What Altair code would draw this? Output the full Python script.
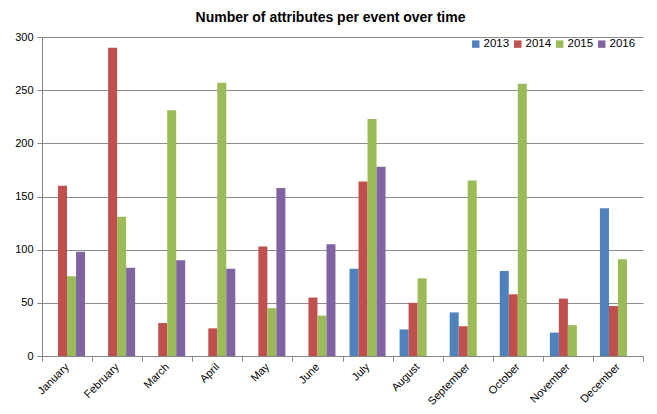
import altair as alt
import pandas as pd

months = ["January", "February", "March", "April", "May", "June", "July",
          "August", "September", "October", "November", "December"]
years = ["2013", "2014", "2015", "2016"]
v2013 = [0, 0, 0, 0, 0, 0, 82, 25, 41, 80, 22, 139]
v2014 = [160, 290, 31, 26, 103, 55, 164, 50, 28, 58, 54, 47]
v2015 = [75, 131, 231, 257, 45, 38, 223, 73, 165, 256, 29, 91]
v2016 = [98, 83, 90, 82, 158, 105, 178, 0, 0, 0, 0, 0]
colors = ["#4F81BD", "#C0504D", "#9BBB59", "#8064A2"]

rows = []
for y, vals in zip(years, [v2013, v2014, v2015, v2016]):
    for m, v in zip(months, vals):
        rows.append({"month": m, "year": y, "value": v})
df = pd.DataFrame(rows)

FONT = "Liberation Sans"

chart = alt.Chart(df).mark_bar().encode(
    x=alt.X("month:N", sort=months, title=None,
            scale=alt.Scale(paddingInner=0, paddingOuter=0),
            axis=alt.Axis(labelAngle=-45, labelAlign="right", labelBaseline="middle",
                          tickBand="extent", grid=False, domainColor="#868686",
                          tickColor="#868686", tickSize=5, labelPadding=4,
                          labelFontSize=11, labelColor="#000", labelFont=FONT)),
    xOffset=alt.XOffset("year:N", sort=years,
                        scale=alt.Scale(paddingInner=0, paddingOuter=0.78)),
    y=alt.Y("value:Q", title=None,
            scale=alt.Scale(domain=[0, 300], nice=False),
            axis=alt.Axis(values=[0, 50, 100, 150, 200, 250, 300], gridColor="#8c8c8c",
                          domainColor="#868686", tickColor="#868686", tickSize=5,
                          labelFontSize=11, labelColor="#000", labelFont=FONT,
                          labelPadding=4)),
    color=alt.Color("year:N", sort=years,
                    scale=alt.Scale(domain=years, range=colors),
                    legend=alt.Legend(title=None, orient="none", direction="horizontal",
                                      legendX=428, legendY=1, symbolType="square",
                                      symbolSize=55, symbolStrokeWidth=0,
                                      labelFontSize=11.5, labelFont=FONT, labelColor="#000",
                                      columnPadding=2, labelOffset=2)),
).properties(
    width=601, height=319,
    title=alt.TitleParams("Number of attributes per event over time", fontSize=14,
                          fontWeight="bold", font=FONT, color="#000",
                          anchor="middle", dx=-12, offset=6),
    autosize="none",
    padding={"left": 42, "top": 37, "right": 14, "bottom": 58},
).configure_view(stroke=None)

chart.save("out.html", embed_options={"renderer": "svg", "actions": False})
